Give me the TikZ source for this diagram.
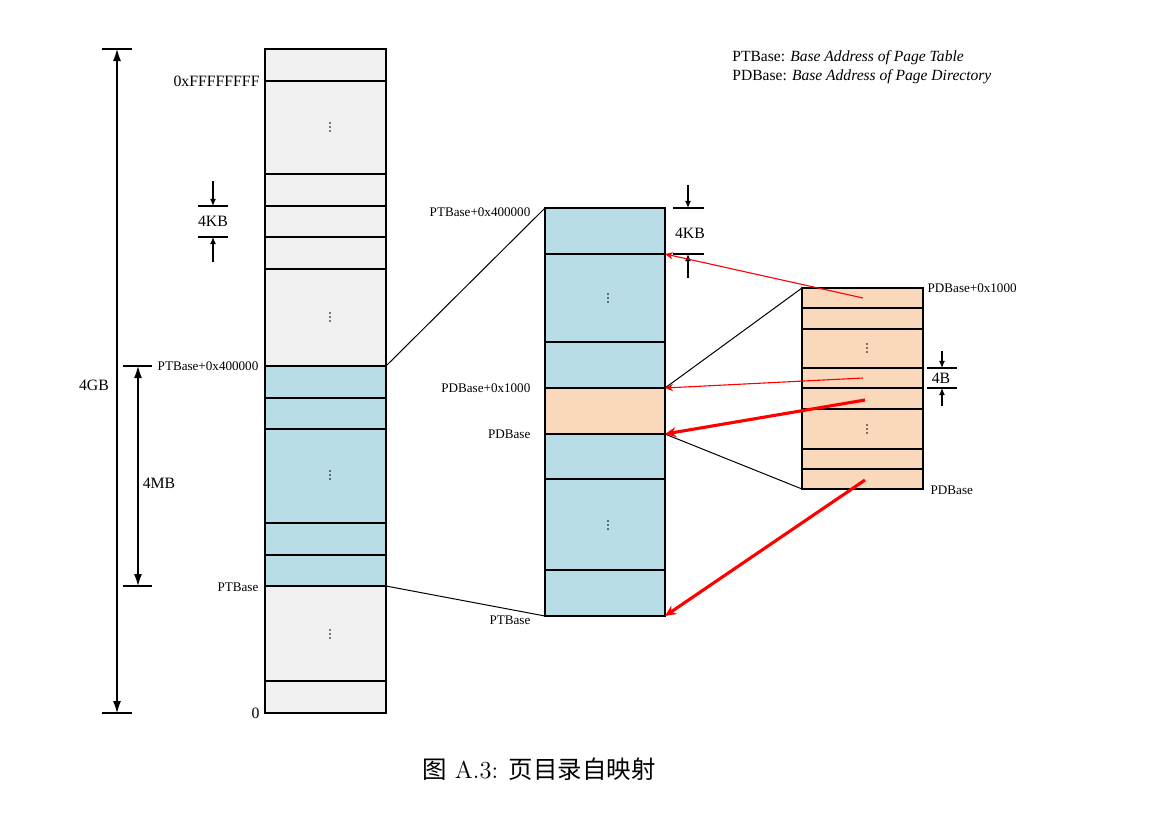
\documentclass[tikz,border=0pt]{standalone}
\usepackage{fontspec}
\usepackage{tikz}
\usetikzlibrary{arrows.meta}
\newfontfamily\tnr{Liberation Serif}
\newfontfamily\cjk{Noto Sans CJK SC}
\definecolor{grisclaro}{HTML}{F0F0F0}
\definecolor{azulpt}{HTML}{B8DDE6}
\definecolor{naranjapd}{HTML}{FAD8BC}
\tikzset{
  celda/.style={draw=black,line width=0.7pt},
  zoom/.style={black,line width=0.45pt},
  cota/.style={black,line width=0.5pt},
  cotag/.style={cota,{Latex[length=5.4pt,width=3.6pt]}-{Latex[length=5.4pt,width=3.6pt]}},
  cotap/.style={cota,-{Latex[length=3.2pt,width=2.7pt]}},
  rojofino/.style={red,line width=0.5pt,-{Stealth[length=3.6pt,width=3.2pt]}},
  rojogrueso/.style={red,line width=1.4pt,-{Stealth[length=5pt,width=4.5pt]}},
  etq/.style={font=\tnr\fontsize{5.9}{7}\selectfont,inner sep=1pt},
  medida/.style={font=\tnr\fontsize{7.1}{8.5}\selectfont,inner sep=0pt}
}
\newcommand{\puntos}[2]{\foreach \d in {-4,0,4}{\fill (#1,#2+\d) circle (0.9);}}

\begin{document}
\begin{tikzpicture}[x=0.45pt,y=-0.45pt]
\useasboundingbox (0,0) rectangle (1163,815);
% espacio de direcciones virtual (4GB)
\fill[grisclaro] (265,49) rectangle (386,713);
\fill[azulpt] (265,366) rectangle (386,586);
\foreach \y in {81,174,206,237,269,366,398,429,523,555,586,681}
  \draw[celda] (265,\y) -- (386,\y);
\draw[celda] (265,49) rectangle (386,713);
\puntos{330}{127} \puntos{330}{317} \puntos{330}{475} \puntos{330}{634}
\node[medida,anchor=east] (fff) at (260,81) {0xFFFFFFFF};
\node[etq,anchor=east] (ptalto) at (261,366) {PTBase+0x400000};
\node[etq,anchor=east] (ptbajo) at (261,587) {PTBase};
\node[medida,anchor=east] (cero) at (260,713) {0};
\coordinate (izq-alto) at (386,366);
\coordinate (izq-bajo) at (386,586);
% tablas de paginas (4MB)
\fill[azulpt] (545,208) rectangle (665,616);
\fill[naranjapd] (545,388) rectangle (665,434);
\foreach \y in {254,342,388,434,479,570}
  \draw[celda] (545,\y) -- (665,\y);
\draw[celda] (545,208) rectangle (665,616);
\puntos{608}{298} \puntos{608}{525}
\node[etq,anchor=east] (mptalto) at (533,212) {PTBase+0x400000};
\node[etq,anchor=east] (mpdalto) at (533,388) {PDBase+0x1000};
\node[etq,anchor=east] (mpdbajo) at (533,434) {PDBase};
\node[etq,anchor=east] (mptbajo) at (533,620) {PTBase};
\coordinate (med-sup) at (545,208);
\coordinate (med-inf) at (545,616);
\coordinate (med-e1) at (665,254);
\coordinate (med-pd1) at (665,388);
\coordinate (med-pd0) at (665,434);
\coordinate (med-fin) at (665,616);
% directorio de paginas (4KB)
\fill[naranjapd] (802,288) rectangle (923,489);
\foreach \y in {308,329,368,388,409,449,469}
  \draw[celda] (802,\y) -- (923,\y);
\draw[celda] (802,288) rectangle (923,489);
\puntos{867}{348} \puntos{867}{429}
\node[etq,anchor=west] (dpdalto) at (925,288) {PDBase+0x1000};
\node[etq,anchor=west] (dpdbajo) at (928,490) {PDBase};
\coordinate (der-sup) at (802,288);
\coordinate (der-inf) at (802,489);
% lineas de ampliacion
\draw[zoom] (izq-alto) -- (med-sup);
\draw[zoom] (izq-bajo) -- (med-inf);
\draw[zoom] (med-pd1) -- (der-sup);
\draw[zoom] (med-pd0) -- (der-inf);
% cotas
\draw[cota] (102,49) -- (132,49) (102,713) -- (132,713);
\draw[cotag] (117,49) -- (117,713);
\node[medida] (gb) at (94,385) {4GB};
\draw[cota] (123,366) -- (152,366) (123,586) -- (152,586);
\draw[cotag] (138,366) -- (138,586);
\node[medida] (mb) at (159,483) {4MB};
\draw[cota] (198,206) -- (228,206) (198,237) -- (228,237);
\draw[cotap] (213,181) -- (213,206);
\draw[cotap] (213,262) -- (213,237);
\node[medida] (kb) at (213,221) {4KB};
\draw[cota] (673,208) -- (704,208) (673,254) -- (704,254);
\draw[cotap] (688,185) -- (688,208);
\draw[cotap] (688,278) -- (688,254);
\node[medida] (kbm) at (690,233) {4KB};
\draw[cota] (927,368) -- (957,368) (927,388) -- (957,388);
\draw[cotap] (942,351) -- (942,368);
\draw[cotap] (942,406) -- (942,388);
\node[medida] (b) at (941,378) {4B};
% punteros de las entradas
\coordinate (e1) at (863,298);
\coordinate (e2) at (863,378);
\coordinate (e3) at (865,400);
\coordinate (e4) at (865,480);
\draw[rojofino] (e1) -- (med-e1);
\draw[rojofino] (e2) -- (med-pd1);
\draw[rojogrueso] (e3) -- (med-pd0);
\draw[rojogrueso] (e4) -- (med-fin);
% leyenda y titulo
\node[font=\tnr\fontsize{7}{8.5}\selectfont,anchor=west,inner sep=0pt] (ley1) at (732,58) {PTBase: \textit{Base Address of Page Table}};
\node[font=\tnr\fontsize{7}{8.5}\selectfont,anchor=west,inner sep=0pt] (ley2) at (732,77) {PDBase: \textit{Base Address of Page Directory}};
\node[font=\fontsize{11}{13}\selectfont] (titulo) at (539,769) {{\cjk 图} A.3: {\cjk 页目录自映射}};
\end{tikzpicture}
\end{document}
